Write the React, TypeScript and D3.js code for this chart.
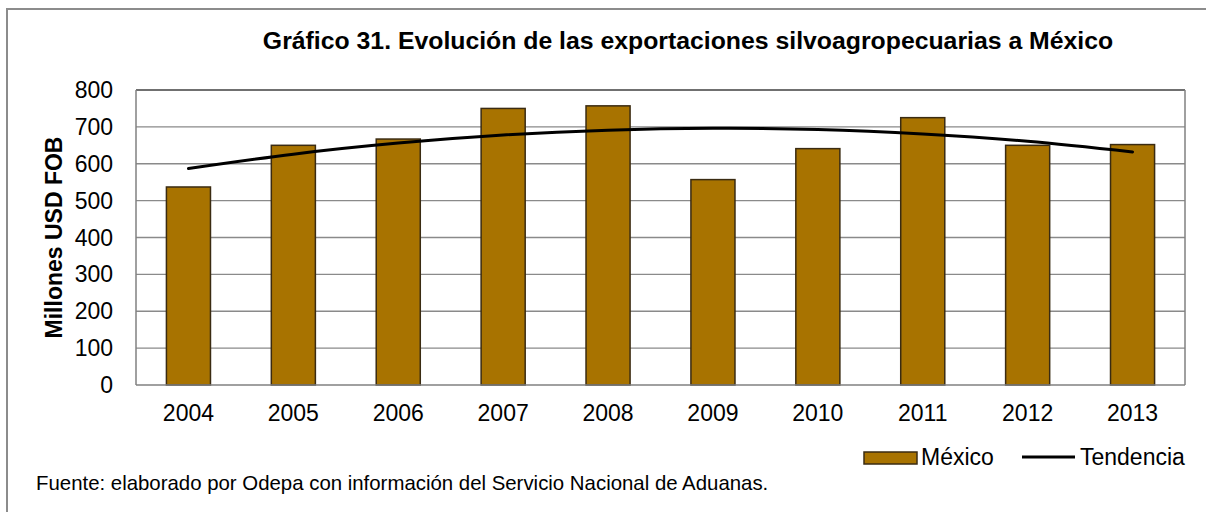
import React, { useEffect, useRef } from 'react';
import * as d3 from 'd3';

const years = ['2004', '2005', '2006', '2007', '2008', '2009', '2010', '2011', '2012', '2013'];
const mexico = [537, 650, 667, 750, 757, 557, 641, 725, 650, 652];
const tendencia = [587, 626, 656, 678, 691, 696, 693, 681, 661, 632];
const yTicks = [0, 100, 200, 300, 400, 500, 600, 700, 800];

const title = 'Gráfico 31. Evolución de las exportaciones silvoagropecuarias a México';
const source = 'Fuente: elaborado por Odepa con información del Servicio Nacional de Aduanas.';

const App = () => {
  const svgRef = useRef(null);

  useEffect(() => {
    const W = 1206, H = 512;
    const plot = { left: 136, right: 1185, top: 90, bottom: 385 };
    const font = "Arial, 'Liberation Sans', sans-serif";

    const svg = d3.select(svgRef.current);
    svg.selectAll('*').remove();
    svg.attr('width', W).attr('height', H).attr('viewBox', [0, 0, W, H]);

    // outer frame
    svg.append('rect').attr('x', 0).attr('y', 0).attr('width', W).attr('height', H).attr('fill', '#fff');
    svg.append('path')
      .attr('d', `M7,${H}V9H${W}`)
      .attr('fill', 'none').attr('stroke', '#8c8c8c').attr('stroke-width', 2);

    const x = d3.scaleBand().domain(years).range([plot.left, plot.right]).paddingInner(0.58).paddingOuter(0.29);
    const xc = d3.scalePoint().domain(years).range([plot.left, plot.right]).padding(0.5);
    const y = d3.scaleLinear().domain([0, 800]).range([plot.bottom, plot.top]);

    // title
    svg.append('text')
      .attr('x', 688).attr('y', 49)
      .attr('text-anchor', 'middle')
      .attr('font-family', font).attr('font-size', 24.8).attr('font-weight', 'bold')
      .attr('fill', '#000')
      .text(title);

    // gridlines
    svg.append('g').selectAll('line')
      .data(yTicks.filter(d => d > 0 && d < 800))
      .enter().append('line')
      .attr('x1', plot.left).attr('x2', plot.right)
      .attr('y1', d => y(d)).attr('y2', d => y(d))
      .attr('stroke', '#8a8a8a').attr('stroke-width', 1.3);

    // plot border
    svg.append('line').attr('x1', plot.left).attr('x2', plot.right).attr('y1', plot.top).attr('y2', plot.top)
      .attr('stroke', '#404040').attr('stroke-width', 1.5);
    svg.append('line').attr('x1', plot.right).attr('x2', plot.right).attr('y1', plot.top).attr('y2', plot.bottom)
      .attr('stroke', '#808080').attr('stroke-width', 1.5);
    svg.append('line').attr('x1', plot.left).attr('x2', plot.left).attr('y1', plot.top).attr('y2', plot.bottom)
      .attr('stroke', '#808080').attr('stroke-width', 1.5);

    // bars
    svg.append('g').selectAll('rect')
      .data(mexico)
      .enter().append('rect')
      .attr('x', (d, i) => x(years[i]))
      .attr('y', d => y(d))
      .attr('width', x.bandwidth())
      .attr('height', d => y(0) - y(d))
      .attr('fill', '#a87300')
      .attr('stroke', '#3a2b12')
      .attr('stroke-width', 1.5);

    // x axis line
    svg.append('line').attr('x1', plot.left).attr('x2', plot.right).attr('y1', plot.bottom).attr('y2', plot.bottom)
      .attr('stroke', '#808080').attr('stroke-width', 1.5);

    // trend line
    const line = d3.line()
      .x((d, i) => xc(years[i]))
      .y(d => y(d))
      .curve(d3.curveNatural);
    svg.append('path')
      .datum(tendencia)
      .attr('d', line)
      .attr('fill', 'none')
      .attr('stroke', '#000')
      .attr('stroke-width', 3)
      .attr('stroke-linecap', 'round');

    // y tick labels
    svg.append('g').selectAll('text')
      .data(yTicks)
      .enter().append('text')
      .attr('x', 113).attr('y', d => y(d))
      .attr('dy', '0.35em')
      .attr('text-anchor', 'end')
      .attr('font-family', font).attr('font-size', 23)
      .text(d => d);

    // x tick labels
    svg.append('g').selectAll('text')
      .data(years)
      .enter().append('text')
      .attr('x', d => xc(d)).attr('y', 421)
      .attr('text-anchor', 'middle')
      .attr('font-family', font).attr('font-size', 23)
      .text(d => d);

    // y axis title
    svg.append('text')
      .attr('transform', `translate(62,${(plot.top + plot.bottom) / 2}) rotate(-90)`)
      .attr('text-anchor', 'middle')
      .attr('font-family', font).attr('font-size', 23).attr('font-weight', 'bold')
      .text('Millones USD FOB');

    // legend
    const lg = svg.append('g');
    lg.append('rect').attr('x', 864).attr('y', 452).attr('width', 53).attr('height', 12)
      .attr('fill', '#a87300').attr('stroke', '#3a2b12').attr('stroke-width', 1.5);
    lg.append('text').attr('x', 921).attr('y', 465)
      .attr('font-family', font).attr('font-size', 23).text('México');
    lg.append('line').attr('x1', 1022).attr('x2', 1075).attr('y1', 457).attr('y2', 457)
      .attr('stroke', '#000').attr('stroke-width', 3);
    lg.append('text').attr('x', 1080).attr('y', 465)
      .attr('font-family', font).attr('font-size', 23).text('Tendencia');

    // source note
    svg.append('text')
      .attr('x', 36).attr('y', 490)
      .attr('font-family', font).attr('font-size', 20.4)
      .text(source);
  }, []);

  return <svg ref={svgRef} style={{ position: 'absolute', left: 0, top: 0, display: 'block' }}></svg>;
};

export default App;
